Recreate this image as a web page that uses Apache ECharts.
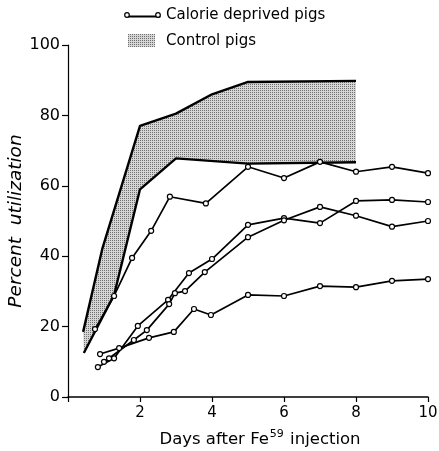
<!DOCTYPE html>
<html>
<head>
<meta charset="utf-8">
<script src="https://cdn.jsdelivr.net/npm/echarts@6/dist/echarts.min.js"></script>
<style>
html,body{margin:0;padding:0;background:#fff;}
#chart{width:439px;height:451px;}
</style>
</head>
<body>
<div id="chart"></div>
<script>
// ---- data ----
const xTicks = [2, 4, 6, 8, 10];
const yTicks = [0, 20, 40, 60, 80, 100];
const controlUpper = [[0.42,18.5],[0.95,42],[2,77],[3,80.5],[4,86],[5,89.5],[8,89.8]];
const controlLower = [[0.44,12.5],[1.28,29],[2,59],[3,67.8],[5,66.3],[8,66.7]];
const deprivedA = [[0.75,19.3],[1.28,28.7],[1.78,39.5],[2.31,47.2],[2.83,56.9],[3.83,55],[5,65.4],[6,62.2],[7,66.8],[8,64],[9,65.4],[10,63.6]];
const deprivedB = [[0.83,8.5],[1.28,11],[1.94,20.2],[2.78,27.6],[3.36,35.2],[4,39.2],[5,48.9],[6,50.8],[7,49.4],[8,55.7],[9,56],[10,55.4]];
const deprivedC = [[1.0,10],[1.14,11],[1.83,16.2],[2.19,19],[2.81,26.4],[2.97,29.5],[3.25,30.1],[3.8,35.5],[5,45.4],[6,50.2],[7,54],[8,51.5],[9,48.4],[10,50]];
const deprivedD = [[0.89,12.2],[1.42,13.9],[2.25,16.8],[2.94,18.5],[3.5,25],[3.97,23.3],[5,29],[6,28.7],[7,31.5],[8,31.2],[9,33],[10,33.5]];
const legendNames = ['Calorie deprived pigs', 'Control pigs'];

// stipple pattern
function makePattern(){
  const c = document.createElement('canvas');
  c.width = 4; c.height = 4;
  const g = c.getContext('2d');
  g.fillStyle = '#d6d6d6'; g.fillRect(0,0,4,4);
  g.fillStyle = '#6e6e6e';
  g.fillRect(0,0,1,1); g.fillRect(2,2,1,1); g.fillRect(2,0,1,1); g.fillRect(0,2,1,1);
  return c;
}
const pattern = makePattern();

const FONT = 'DejaVu Sans';
const chart = echarts.init(document.getElementById('chart'), null, {renderer:'canvas'});

function deprivedSeries(data){
  return {
    type:'line', name: legendNames[0], data: data, z: 5,
    symbol:'circle', symbolSize:5, showSymbol:true,
    lineStyle:{color:'#000', width:1.7},
    itemStyle:{color:'#fff', borderColor:'#000', borderWidth:1.2},
    emphasis:{disabled:true}, animation:false
  };
}

const option = {
  animation:false,
  grid:{left:68, right:11, top:45, bottom:54, containLabel:false, outerBoundsMode:'none'},
  xAxis:{
    type:'value', min:0, max:10, interval:2,
    axisLine:{lineStyle:{color:'#000', width:1.5}},
    axisTick:{show:true, length:5, lineStyle:{color:'#000', width:1.2}},
    axisLabel:{color:'#000', fontFamily:FONT, fontSize:15, margin:9,
      formatter: v => xTicks.includes(v) ? String(v) : ''},
    splitLine:{show:false},
    name:'{a|Days after Fe}{s|59}{a| injection}',
    nameLocation:'middle', nameGap:32, nameMoveOverlap:false,
    nameTextStyle:{padding:[0,0,0,24], rich:{
      a:{fontFamily:FONT, fontSize:16.5, color:'#000'},
      s:{fontFamily:FONT, fontSize:11, color:'#000', padding:[0,1,10,1]}
    }}
  },
  yAxis:{
    type:'value', min:0, max:100, interval:20,
    axisLine:{show:true, lineStyle:{color:'#000', width:1.2}},
    axisTick:{show:true, length:6, lineStyle:{color:'#000', width:1.2}},
    axisLabel:{color:'#000', fontFamily:FONT, fontSize:16, margin:8,
      formatter: v => yTicks.includes(v) ? String(v) : ''},
    splitLine:{show:false},
    name:'Percent  utilization', nameLocation:'middle', nameGap:42, nameRotate:90, nameMoveOverlap:false,
    nameTextStyle:{fontFamily:FONT, fontSize:18.5, fontStyle:'italic', color:'#000'}
  },
  graphic:[
    {type:'line', left:125, top:14, shape:{x1:0,y1:0,x2:33,y2:0}, style:{stroke:'#000', lineWidth:1.8}, z:10},
    {type:'circle', shape:{cx:127, cy:15, r:2.3}, style:{fill:'#fff', stroke:'#000', lineWidth:1.2}, z:11},
    {type:'circle', shape:{cx:158, cy:15, r:2.3}, style:{fill:'#fff', stroke:'#000', lineWidth:1.2}, z:11},
    {type:'text', left:166, top:8, style:{text:legendNames[0], font:'15px "DejaVu Sans"', fill:'#000'}, z:10},
    {type:'rect', shape:{x:128, y:34, width:27, height:13}, style:{fill:{image:pattern, repeat:'repeat'}}, z:10},
    {type:'text', left:166, top:34, style:{text:legendNames[1], font:'15px "DejaVu Sans"', fill:'#000'}, z:10}
  ],
  series:[
    {
      type:'custom', name: legendNames[1], z:1, silent:true,
      data:[0],
      renderItem: function(params, api){
        const pts = controlUpper.map(p => api.coord(p))
          .concat(controlLower.slice().reverse().map(p => api.coord(p)));
        return {type:'polygon', shape:{points:pts},
          style:{fill:{image:pattern, repeat:'repeat'}, stroke:null}};
      }
    },
    {type:'line', data:controlUpper, symbol:'none', z:3, lineStyle:{color:'#000', width:2.4}, silent:true},
    {type:'line', data:controlLower, symbol:'none', z:3, lineStyle:{color:'#000', width:2.4}, silent:true},
    deprivedSeries(deprivedA),
    deprivedSeries(deprivedB),
    deprivedSeries(deprivedC),
    deprivedSeries(deprivedD)
  ]
};
chart.setOption(option);
</script>
</body>
</html>
